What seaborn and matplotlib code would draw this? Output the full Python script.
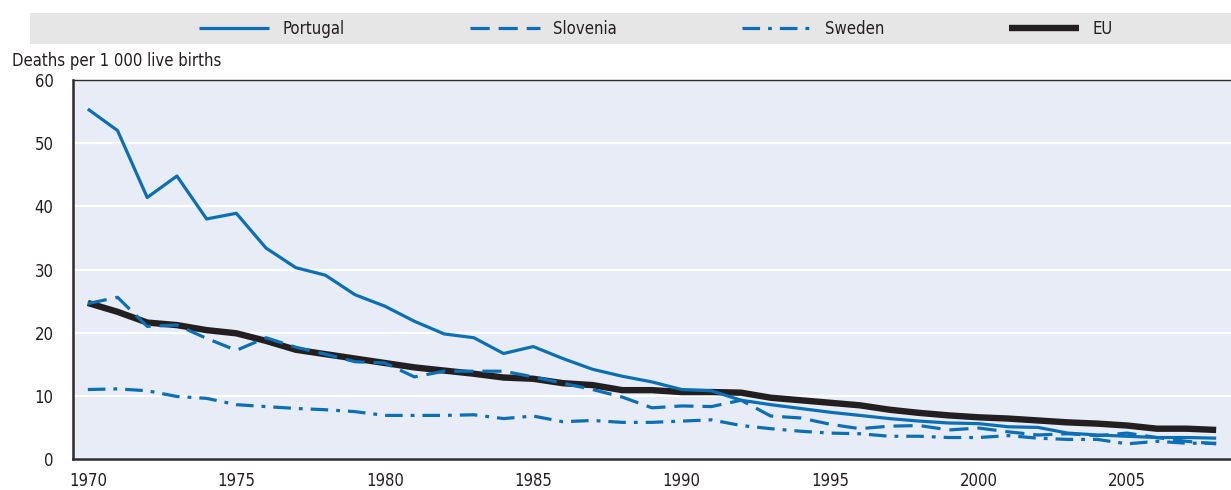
import pandas as pd
import numpy as np
import matplotlib.pyplot as plt
import seaborn as sns
from matplotlib.patches import Rectangle


years = list(range(1970, 2009))

portugal = [55.4, 52.0, 41.4, 44.8, 38.0, 38.9, 33.4, 30.3, 29.1, 26.0,
            24.2, 21.8, 19.8, 19.2, 16.7, 17.8, 15.9, 14.2, 13.1, 12.2,
            11.0, 10.8, 9.3, 8.6, 8.0, 7.4, 6.9, 6.4, 6.0, 5.7,
            5.6, 5.1, 5.0, 4.1, 3.8, 3.6, 3.4, 3.4, 3.3]

slovenia = [24.6, 25.6, 21.0, 21.2, 19.1, 17.2, 19.2, 17.7, 16.6, 15.4,
            15.2, 13.0, 13.9, 13.9, 13.9, 13.0, 12.0, 11.0, 9.8, 8.1,
            8.4, 8.3, 9.3, 6.8, 6.5, 5.5, 4.8, 5.2, 5.3, 4.6,
            4.9, 4.3, 3.8, 4.0, 3.7, 4.1, 3.4, 2.8, 2.4]

sweden = [11.0, 11.1, 10.8, 9.9, 9.6, 8.6, 8.3, 8.0, 7.8, 7.5,
          6.9, 6.9, 6.9, 7.0, 6.4, 6.8, 5.9, 6.1, 5.8, 5.8,
          6.0, 6.2, 5.3, 4.8, 4.4, 4.1, 4.0, 3.6, 3.6, 3.4,
          3.4, 3.7, 3.3, 3.1, 3.1, 2.4, 2.8, 2.5, 2.5]

eu = [24.7, 23.3, 21.6, 21.2, 20.4, 19.9, 18.7, 17.3, 16.6, 15.9,
      15.2, 14.5, 14.0, 13.5, 12.9, 12.7, 12.0, 11.7, 10.9, 10.9,
      10.6, 10.6, 10.5, 9.7, 9.3, 8.9, 8.5, 7.8, 7.3, 6.9,
      6.6, 6.4, 6.1, 5.8, 5.6, 5.3, 4.8, 4.8, 4.6]

countries = ['Portugal', 'Slovenia', 'Sweden', 'EU']

df = pd.DataFrame({
    'year': years * 4,
    'value': portugal + slovenia + sweden + eu,
    'country': np.repeat(countries, len(years)),
})

sns.set_style('white')
plt.rcParams['font.family'] = ['DejaVu Sans']
plt.rcParams['font.stretch'] = 'condensed'
plt.rcParams['font.size'] = 12

blue = '#0b6fb6'
black = '#231f20'

fig = plt.figure(figsize=(12.31, 4.9), dpi=100)
ax = fig.add_axes([73 / 1231, 31 / 490, 1 - 73 / 1231, 379 / 490])
ax.set_facecolor('#e8ecf6')

sns.lineplot(data=df, x='year', y='value', hue='country', style='country',
             size='country', hue_order=countries, style_order=countries,
             size_order=countries,
             palette={'Portugal': blue, 'Slovenia': blue, 'Sweden': blue, 'EU': black},
             dashes={'Portugal': '', 'Slovenia': (6, 2.8), 'Sweden': (5.5, 2.5, 1.2, 2.5), 'EU': ''},
             sizes={'Portugal': 2.3, 'Slovenia': 2.3, 'Sweden': 2.3, 'EU': 4.6},
             ax=ax)

for line in ax.get_lines():
    line.set_solid_capstyle('butt')
    line.set_dash_capstyle('butt')

handles, labels = ax.get_legend_handles_labels()
ax.get_legend().remove()

# EU line under the country lines
ax.get_lines()[3].set_zorder(1.5)

ax.set_xlim(1969.5, 2008.5)
ax.set_ylim(0, 60)
ax.set_yticks(range(0, 61, 10))
ax.set_xticks(range(1970, 2006, 5))
ax.set_xticks(np.arange(1970.5, 2008, 1), minor=True)
ax.tick_params(axis='x', which='major', length=0, pad=9, labelsize=12, colors='#231f20')
ax.tick_params(axis='x', which='minor', direction='in', length=6, width=1, color='#555555')
ax.tick_params(axis='y', direction='in', length=7, width=1, pad=14, labelsize=12, colors='#231f20')
ax.tick_params(axis='y', colors='#231f20', color='#555555')

ax.grid(axis='y', color='white', linewidth=1.6)
ax.set_axisbelow(True)
ax.set_xlabel('')
ax.set_ylabel('')
for side in ['left', 'bottom', 'top']:
    ax.spines[side].set_color('#2b2b2b')
    ax.spines[side].set_linewidth(1.8)
ax.spines['top'].set_linewidth(1.0)
ax.spines['right'].set_visible(False)

fig.text(12 / 1231, 1 - 66 / 490, 'Deaths per 1 000 live births', fontsize=12,
         color='#231f20', ha='left', va='baseline')

# grey legend band
fig.patches.append(Rectangle((30 / 1231, 1 - 44 / 490), 1 - 30 / 1231, 31 / 490,
                             transform=fig.transFigure, facecolor='#e6e6e6',
                             edgecolor='none', zorder=0))
leg = fig.legend(handles, labels, loc='center', bbox_to_anchor=(656 / 1231, 1 - 28.5 / 490),
                 ncol=4, frameon=False, fontsize=12, handlelength=4.2,
                 handletextpad=0.8, columnspacing=7.5)
for t in leg.get_texts():
    t.set_color('#231f20')

plt.savefig('out.png', dpi=100)
